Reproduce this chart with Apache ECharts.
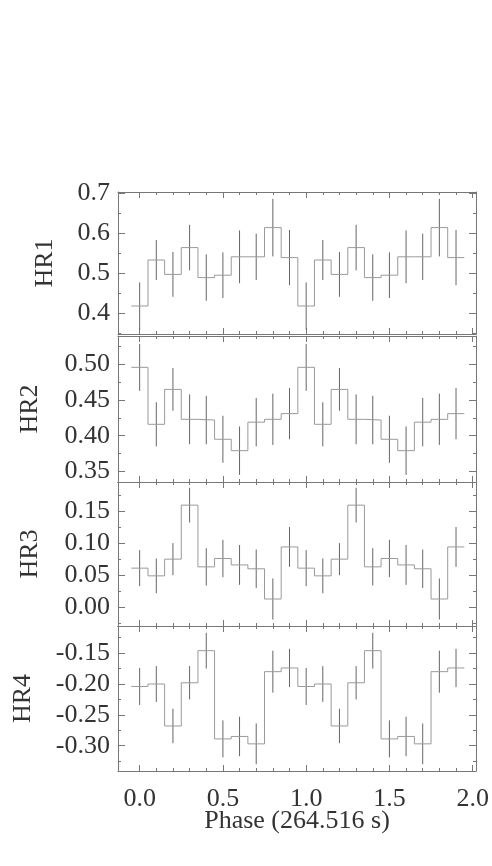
<!DOCTYPE html>
<html>
<head>
<meta charset="utf-8">
<script src="https://cdn.jsdelivr.net/npm/echarts@6/dist/echarts.min.js"></script>
<style>
  html, body { margin: 0; padding: 0; background: #fff; }
  #main { width: 492px; height: 866px; }
</style>
</head>
<body>
<div id="main"></div>
<script>
// phase bins (bin width 0.1), the folded curve is drawn twice
var phase = [0.0, 0.1, 0.2, 0.3, 0.4, 0.5, 0.6, 0.7, 0.8, 0.9,
             1.0, 1.1, 1.2, 1.3, 1.4, 1.5, 1.6, 1.7, 1.8, 1.9];
var binWidth = 0.1;

var hr1    = [0.417, 0.532, 0.496, 0.563, 0.488, 0.494, 0.540, 0.540, 0.613, 0.538,
              0.417, 0.532, 0.496, 0.563, 0.488, 0.494, 0.540, 0.540, 0.613, 0.538];
var hr1Err = [0.059, 0.050, 0.056, 0.057, 0.058, 0.057, 0.066, 0.058, 0.072, 0.069,
              0.059, 0.050, 0.056, 0.057, 0.058, 0.057, 0.066, 0.058, 0.072, 0.069];

var hr2    = [0.496, 0.416, 0.465, 0.423, 0.422, 0.395, 0.379, 0.419, 0.423, 0.431,
              0.496, 0.416, 0.465, 0.423, 0.422, 0.395, 0.379, 0.419, 0.423, 0.431];
var hr2Err = [0.033, 0.031, 0.030, 0.035, 0.034, 0.033, 0.034, 0.034, 0.036, 0.036,
              0.033, 0.031, 0.030, 0.035, 0.034, 0.033, 0.034, 0.034, 0.036, 0.036];

var hr3    = [0.061, 0.049, 0.075, 0.159, 0.063, 0.076, 0.066, 0.060, 0.013, 0.094,
              0.061, 0.049, 0.075, 0.159, 0.063, 0.076, 0.066, 0.060, 0.013, 0.094];
var hr3Err = [0.028, 0.027, 0.025, 0.027, 0.029, 0.029, 0.031, 0.030, 0.032, 0.031,
              0.028, 0.027, 0.025, 0.027, 0.029, 0.029, 0.031, 0.030, 0.032, 0.031];

var hr4    = [-0.204, -0.200, -0.268, -0.198, -0.146, -0.289, -0.285, -0.297, -0.180, -0.174,
              -0.204, -0.200, -0.268, -0.198, -0.146, -0.289, -0.285, -0.297, -0.180, -0.174];
var hr4Err = [0.030, 0.029, 0.028, 0.027, 0.029, 0.030, 0.032, 0.033, 0.034, 0.031,
              0.030, 0.029, 0.028, 0.027, 0.029, 0.030, 0.032, 0.033, 0.034, 0.031];

// tick values
var xMajor = [0.0, 0.5, 1.0, 1.5, 2.0];
var xMinor = [0.1, 0.2, 0.3, 0.4, 0.6, 0.7, 0.8, 0.9, 1.1, 1.2, 1.3, 1.4, 1.6, 1.7, 1.8, 1.9];
var hr1Major = [0.4, 0.5, 0.6, 0.7];
var hr1Minor = [0.35, 0.45, 0.55, 0.65];
var hr2Major = [0.35, 0.40, 0.45, 0.50];
var hr2Minor = [0.375, 0.425, 0.475, 0.525];
var hr3Major = [0.00, 0.05, 0.10, 0.15];
var hr3Minor = [-0.025, 0.025, 0.075, 0.125, 0.175];
var hr4Major = [-0.30, -0.25, -0.20, -0.15];
var hr4Minor = [-0.325, -0.275, -0.225, -0.175, -0.125];

var panels = [
  { name: 'HR1', val: hr1, err: hr1Err, major: hr1Major, minor: hr1Minor, digits: 1 },
  { name: 'HR2', val: hr2, err: hr2Err, major: hr2Major, minor: hr2Minor, digits: 2 },
  { name: 'HR3', val: hr3, err: hr3Err, major: hr3Major, minor: hr3Minor, digits: 2 },
  { name: 'HR4', val: hr4, err: hr4Err, major: hr4Major, minor: hr4Minor, digits: 2 }
];

// layout of each panel (pixels) and axis ranges
var layout = [
  { top: 192, height: 142, min: 0.347, max: 0.702, nameGap: 60 },
  { top: 336, height: 146, min: 0.335, max: 0.540, nameGap: 75 },
  { top: 482, height: 144, min: -0.029, max: 0.195, nameGap: 75 },
  { top: 626, height: 145, min: -0.341, max: -0.106, nameGap: 82 }
];

var font = 'Liberation Serif';
var fontSize = 26;
var axisColor = '#777';
var xMin = -0.13, xMax = 2.02;

var grids = [], xAxes = [], yAxes = [], series = [];

panels.forEach(function (p, g) {
  var L = layout[g];
  var last = g === panels.length - 1;
  grids.push({ left: 118, right: 16, top: L.top, height: L.height });

  // x axes: bottom major, bottom minor, top major, top minor
  [['bottom', xMajor, 6, true], ['bottom', xMinor, 3, false],
   ['top', xMajor, 6, false], ['top', xMinor, 3, false]].forEach(function (a, k) {
    var showLabels = last && a[3];
    xAxes.push({
      type: 'value', gridIndex: g, position: a[0], min: xMin, max: xMax,
      axisLine: { show: k === 0 || k === 2, onZero: false, lineStyle: { color: axisColor, width: 1 } },
      axisTick: { show: true, inside: true, length: a[2], customValues: a[1],
                  lineStyle: { color: axisColor, width: 1 } },
      axisLabel: showLabels ? {
        show: true, customValues: a[1], margin: 15,
        fontFamily: font, fontSize: fontSize, color: '#333',
        formatter: function (v) { return v.toFixed(1); }
      } : { show: false },
      splitLine: { show: false },
      name: showLabels ? 'Phase (264.516 s)' : '',
      nameLocation: 'middle', nameGap: 37, nameMoveOverlap: false,
      nameTextStyle: { fontFamily: font, fontSize: fontSize, color: '#333' }
    });
  });

  // y axes: left major, left minor, right major, right minor
  [['left', p.major, 7, true], ['left', p.minor, 3, false],
   ['right', p.major, 7, false], ['right', p.minor, 3, false]].forEach(function (a, k) {
    yAxes.push({
      type: 'value', gridIndex: g, position: a[0], min: L.min, max: L.max,
      axisLine: { show: k === 0 || k === 2, onZero: false, lineStyle: { color: axisColor, width: 1 } },
      axisTick: { show: true, inside: true, length: a[2], customValues: a[1],
                  lineStyle: { color: axisColor, width: 1 } },
      axisLabel: a[3] ? {
        show: true, customValues: a[1], margin: 8,
        fontFamily: font, fontSize: fontSize, color: '#333',
        formatter: function (v) { return v.toFixed(p.digits); }
      } : { show: false },
      splitLine: { show: false },
      name: a[3] ? p.name : '',
      nameLocation: 'middle', nameGap: L.nameGap, nameRotate: 90, nameMoveOverlap: false,
      nameTextStyle: { fontFamily: font, fontSize: fontSize, color: '#333' }
    });
  });

  // histogram-style step line: each bin spans phase +/- half a bin
  var steps = [];
  phase.forEach(function (x, i) {
    steps.push([x - binWidth / 2, p.val[i]]);
    steps.push([x + binWidth / 2, p.val[i]]);
  });
  series.push({
    type: 'line', xAxisIndex: g * 4, yAxisIndex: g * 4,
    data: steps, showSymbol: false, symbol: 'none',
    lineStyle: { color: '#9a9a9a', width: 1 }, silent: true
  });

  // error bars
  series.push({
    type: 'custom', xAxisIndex: g * 4, yAxisIndex: g * 4, silent: true,
    data: phase.map(function (x, i) { return [x, p.val[i] - p.err[i], p.val[i] + p.err[i]]; }),
    renderItem: function (params, api) {
      var lo = api.coord([api.value(0), api.value(1)]);
      var hi = api.coord([api.value(0), api.value(2)]);
      return {
        type: 'line',
        shape: { x1: lo[0], y1: lo[1], x2: hi[0], y2: hi[1] },
        style: { stroke: '#666', lineWidth: 1 }
      };
    }
  });
});

var chart = echarts.init(document.getElementById('main'));
chart.setOption({
  animation: false,
  backgroundColor: '#fff',
  grid: grids,
  xAxis: xAxes,
  yAxis: yAxes,
  series: series
});
</script>
</body>
</html>
